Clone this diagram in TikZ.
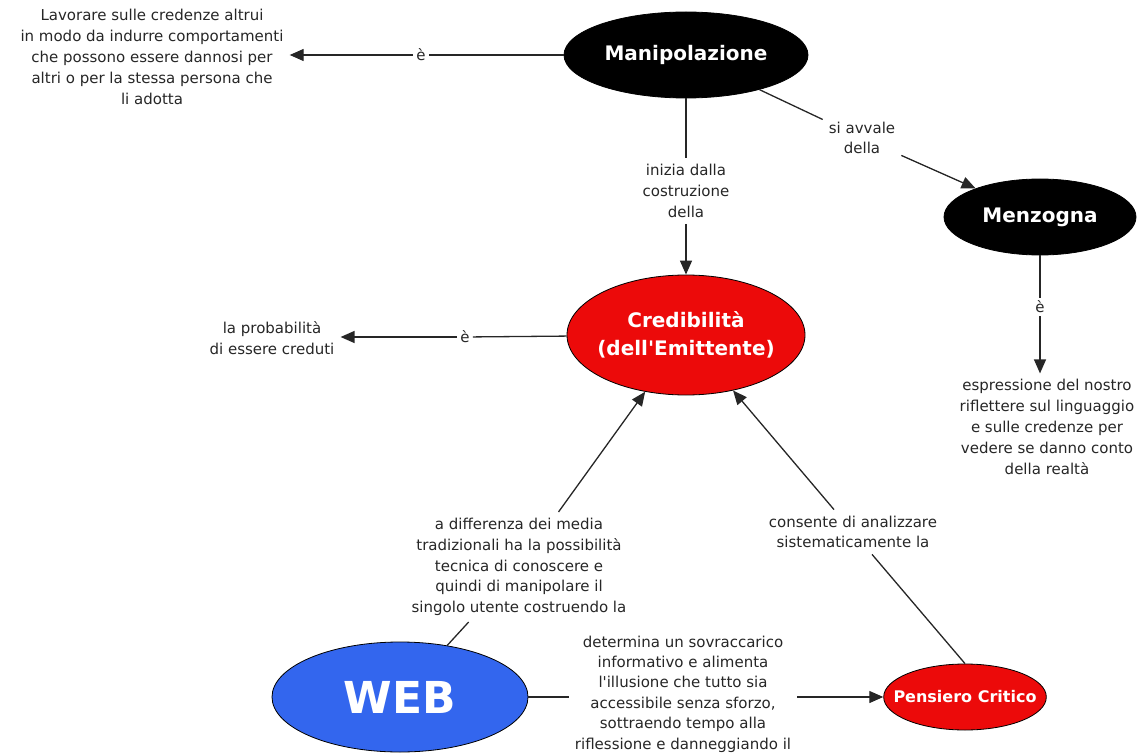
\documentclass[tikz,border=0pt]{standalone}
\usepackage{fontspec}
\setmainfont{DejaVu Sans}
\usetikzlibrary{shapes.geometric,arrows.meta}
\definecolor{webblue}{RGB}{51,102,238}
\definecolor{credred}{RGB}{236,10,10}

\begin{document}
\begin{tikzpicture}[x=1pt,y=-1pt,
   concept/.style={ellipse,draw=black,thick,inner sep=0pt,text=white,font=\bfseries\fontsize{20}{24}\selectfont},
   phrase/.style={align=center,inner sep=6pt,font=\fontsize{15}{20.8}\selectfont,text=black!85},
   link/.style={draw=black!85,line width=1.3pt},
   arr/.style={link,-{Triangle[length=14pt,width=12pt]}}]
   \useasboundingbox (0,0) rectangle (1138,754);

   \node[concept,fill=black,minimum width=244pt,minimum height=86pt] (manip) at (686,55) {Manipolazione};
   \node[concept,fill=black,minimum width=192pt,minimum height=76pt] (menz) at (1040,217) {Menzogna};
   \node[concept,fill=credred,minimum width=238pt,minimum height=120pt,inner xsep=-11pt,align=center,font=\bfseries\fontsize{20}{28}\selectfont] (cred) at (686,335) {Credibilità\\(dell\textquotesingle Emittente)};
   \node[concept,fill=webblue,minimum width=256pt,minimum height=110pt,font=\bfseries\fontsize{44}{48}\selectfont] (web) at (400,697) {WEB};
   \node[concept,fill=credred,minimum width=162pt,minimum height=66pt,inner xsep=-14pt,font=\bfseries\fontsize{16}{20}\selectfont] (pens) at (965,697) {Pensiero Critico};

   \node[phrase] (defman) at (152,57) {Lavorare sulle credenze altrui\\in modo da indurre comportamenti\\che possono essere dannosi per\\altri o per la stessa persona che\\li adotta};
   \node[phrase,inner sep=3pt] (e1) at (421,55) {è};
   \node[phrase] (inizia) at (686,191) {inizia dalla\\costruzione\\della};
   \node[phrase] (avvale) at (862,138) {si avvale\\della};
   \node[phrase,inner sep=3pt] (e3) at (1040,307) {è};
   \node[phrase] (espr) at (1047,427) {espressione del nostro\\riflettere sul linguaggio\\e sulle credenze per\\vedere se danno conto\\della realtà};
   \node[phrase] (prob) at (272,338) {la probabilità\\di essere creduti};
   \node[phrase,inner sep=3pt] (e2) at (465,337) {è};
   \node[phrase] (diff) at (519,567) {a differenza dei media\\tradizionali ha la possibilità\\tecnica di conoscere e\\quindi di manipolare il\\singolo utente costruendo la};
   \node[phrase] (consente) at (853,532) {consente di analizzare\\sistematicamente la};
   \node[phrase,font=\fontsize{15}{20.4}\selectfont] (determ) at (683,694) {determina un sovraccarico\\informativo e alimenta\\l\textquotesingle illusione che tutto sia\\accessibile senza sforzo,\\sottraendo tempo alla\\riflessione e danneggiando il};

   \draw[link] (manip) -- (e1);
   \draw[arr] (e1) -- (e1 -| defman.east);
   \draw[link] (manip) -- (inizia);
   \draw[arr] (inizia) -- (cred);
   \draw[link] (manip) -- (avvale);
   \draw[arr] (avvale) -- (menz);
   \draw[link] (menz) -- (e3);
   \draw[arr] (e3) -- (e3 |- espr.north);
   \draw[link] (cred) -- (e2);
   \draw[arr] (e2) -- (e2 -| prob.east);
   \draw[link] (web) -- (diff);
   \draw[arr] (diff) -- (cred);
   \draw[link] (pens.north) -- (consente);
   \draw[arr] (consente) -- (cred);
   \draw[link] (web.east) -- (web.east -| determ.west);
   \draw[arr] (web.east -| determ.east) -- (pens);
\end{tikzpicture}
\end{document}
